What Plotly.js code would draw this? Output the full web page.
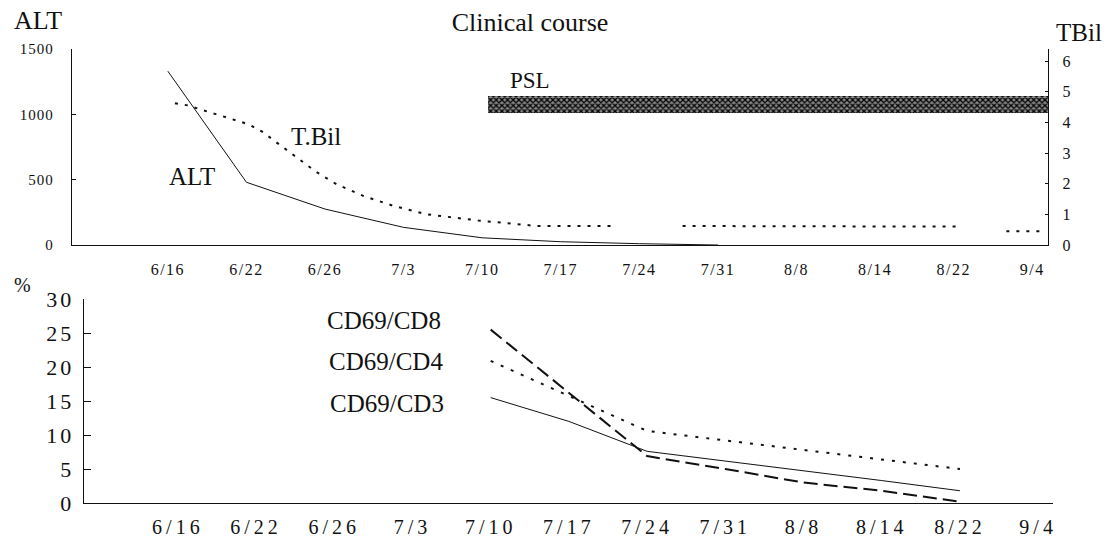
<!DOCTYPE html>
<html>
<head>
<meta charset="utf-8">
<script src="https://cdn.plot.ly/plotly-3.0.1.min.js"></script>
<style>
  html, body { margin: 0; padding: 0; background: #fff; }
  #chart { width: 1116px; height: 545px; }
  #chart .xtick text { letter-spacing: 1.5px; }
  #chart .ytick text { letter-spacing: 1px; }
  #chart .x2tick text { letter-spacing: 4px; }
  #chart .y3tick text { letter-spacing: 3px; }
</style>
</head>
<body>
<div id="chart"></div>
<script>
// ---- data (x positions are category indices into `dates`) ----
const dates = ['6/16', '6/22', '6/26', '7/3', '7/10', '7/17', '7/24', '7/31', '8/8', '8/14', '8/22', '9/4'];
const topTickText = ['6/16', '6/22', '6/26', '7/3', '7/10', '7/17', '7/24', '7/31', '8/8', '8/14', '8/22', '9/4'];

const altPos = [0, 1, 2, 3, 4, 5, 6, 7];
const altVals = [1330, 480, 275, 135, 55, 25, 10, 0];

const tbilPos = [0.09, 0.25, 0.6, 1.03, 1.2, 1.46, 1.65, 1.88, 2.15, 2.5, 2.88, 3.3, 3.95, 4.7, 5.7, null, 6.55, 7, 8, 9, 10.1, null, 10.67, 11.14];
const tbilVals = [4.63, 4.56, 4.28, 3.94, 3.7, 3.2, 2.82, 2.4, 1.98, 1.59, 1.27, 1.0, 0.8, 0.62, 0.62, null, 0.62, 0.62, 0.6, 0.6, 0.6, null, 0.45, 0.45];

const pslStart = 4.07;   // just after 7/10
const pslEnd = 11.2;     // continues to end of chart
const pslLow = 4.3;      // TBil-axis units
const pslHigh = 4.85;

const cdPos = [4, 5, 6, 7, 8, 9, 10];
const cd3Vals = [15.5, 12.0, 7.6, 6.2, 4.8, 3.3, 1.8];
const cd4Vals = [20.9, 15.7, 10.6, 9.2, 7.8, 6.4, 5.0];
const cd8Vals = [25.5, 16.2, 6.9, 5.0, 3.0, 1.8, 0.2];

const leftTicks = [0, 500, 1000, 1500];
const rightTicks = [0, 1, 2, 3, 4, 5, 6];
const pctTicks = [0, 5, 10, 15, 20, 25, 30];

// ---- chart ----
const W = 1116, H = 545;
const serif = 'Liberation Serif';
const ink = '#111';
const idx = dates.map((d, i) => i);

const traces = [
  {
    type: 'bar', orientation: 'h', xaxis: 'x', yaxis: 'y2',
    y: [(pslLow + pslHigh) / 2], x: [pslEnd - pslStart], base: [pslStart],
    width: [pslHigh - pslLow],
    marker: {
      color: '#777',
      pattern: { shape: 'x', fgcolor: '#000', bgcolor: '#8a8a8a', size: 4, solidity: 0.55 },
      line: { width: 0 }
    },
    hoverinfo: 'skip'
  },
  {
    type: 'scatter', mode: 'lines', xaxis: 'x', yaxis: 'y',
    x: altPos, y: altVals, line: { color: ink, width: 1 }
  },
  {
    type: 'scatter', mode: 'lines', xaxis: 'x', yaxis: 'y2',
    x: tbilPos, y: tbilVals, connectgaps: false,
    line: { color: ink, width: 2, dash: '3px,7px' }
  },
  {
    type: 'scatter', mode: 'lines', xaxis: 'x2', yaxis: 'y3',
    x: cdPos, y: cd3Vals, line: { color: ink, width: 1 }
  },
  {
    type: 'scatter', mode: 'lines', xaxis: 'x2', yaxis: 'y3',
    x: cdPos, y: cd4Vals, line: { color: ink, width: 2, dash: '3px,8px' }
  },
  {
    type: 'scatter', mode: 'lines', xaxis: 'x2', yaxis: 'y3',
    x: cdPos, y: cd8Vals, line: { color: ink, width: 2, dash: '14px,6px' }
  }
];

const px = v => v / W;
const py = v => 1 - v / H;

const axisBase = {
  showgrid: false, zeroline: false, showline: true,
  linecolor: ink, linewidth: 1.3, tickcolor: ink, fixedrange: true
};

function label(text, x, y, size) {
  return {
    text: text, xref: 'paper', yref: 'paper', x: px(x), y: py(y),
    xanchor: 'center', yanchor: 'middle', showarrow: false,
    font: { family: serif, size: size, color: ink }
  };
}

const layout = {
  width: W, height: H,
  margin: { l: 0, r: 0, t: 0, b: 0 },
  paper_bgcolor: '#fff', plot_bgcolor: 'rgba(0,0,0,0)',
  showlegend: false, hovermode: false, bargap: 0,
  font: { family: serif, color: ink },
  title: {
    text: 'Clinical course', x: px(530), xanchor: 'center',
    y: py(22), yanchor: 'middle', yref: 'container', xref: 'container',
    font: { family: serif, size: 26, color: ink }
  },
  xaxis: Object.assign({}, axisBase, {
    domain: [px(72), px(1048)], anchor: 'y', range: [-1.22, 11.2],
    tickmode: 'array', tickvals: idx, ticktext: topTickText, ticks: '',
    ticklabelstandoff: 9, tickfont: { family: serif, size: 16, color: ink }
  }),
  yaxis: Object.assign({}, axisBase, {
    domain: [py(245), py(49)], anchor: 'x', range: [0, 1500],
    tickmode: 'array', tickvals: leftTicks, ticks: 'inside', ticklen: 4,
    ticklabelstandoff: 14, tickfont: { family: serif, size: 15, color: ink }
  }),
  yaxis2: Object.assign({}, axisBase, {
    overlaying: 'y', side: 'right', anchor: 'x', range: [0, 6.4],
    tickmode: 'array', tickvals: rightTicks, ticks: 'inside', ticklen: 3,
    ticklabelstandoff: 10, tickfont: { family: serif, size: 16, color: ink }
  }),
  xaxis2: Object.assign({}, axisBase, {
    domain: [px(84), px(1053)], anchor: 'y3', range: [-1.2, 11.19],
    tickmode: 'array', tickvals: idx, ticktext: dates, ticks: '',
    ticklabelstandoff: 6, tickfont: { family: serif, size: 20, color: ink }
  }),
  yaxis3: Object.assign({}, axisBase, {
    domain: [py(503), py(299)], anchor: 'x2', range: [0, 30],
    tickmode: 'array', tickvals: pctTicks, ticks: 'inside', ticklen: 7,
    ticklabelstandoff: 4, tickfont: { family: serif, size: 22, color: ink }
  }),
  annotations: [
    label('ALT', 38, 21, 26),
    label('TBil', 1079, 33, 25),
    label('%', 22, 285, 20),
    label('ALT', 192, 176, 25),
    label('T.Bil', 316, 136, 25),
    label('PSL', 530, 80, 23),
    label('CD69/CD8', 384, 320, 25),
    label('CD69/CD4', 386, 361, 25),
    label('CD69/CD3', 387, 403, 25)
  ]
};

Plotly.newPlot('chart', traces, layout, { staticPlot: true, displayModeBar: false });
</script>
</body>
</html>
